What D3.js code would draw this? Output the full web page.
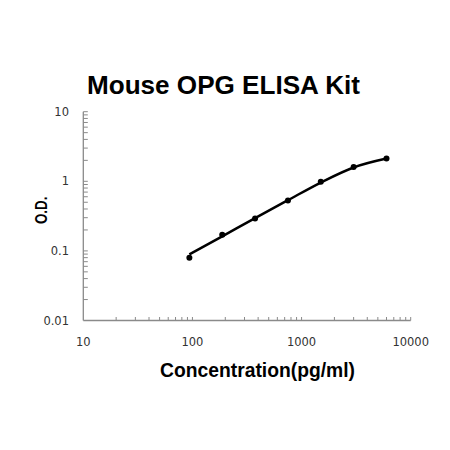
<!DOCTYPE html>
<html><head><meta charset="utf-8">
<script src="https://cdn.jsdelivr.net/npm/d3@7"></script>
<style>html,body{margin:0;padding:0;background:#fff;}</style>
</head><body>
<script>
const title = "Mouse OPG ELISA Kit";
const xTitle = "Concentration(pg/ml)";
const yTitle = "O.D.";
const concentrations = [93.75, 187.5, 375, 750, 1500, 3000, 6000];
const odValues = [0.080, 0.170, 0.292, 0.531, 0.984, 1.60, 2.13];
const fitConc = [93.75, 187.5, 375, 750, 1500, 3000, 6000];
const fitOD = [0.089, 0.162, 0.296, 0.535, 0.960, 1.58, 2.12];
const xTickValues = [10, 100, 1000, 10000];
const xTickLabels = ["10", "100", "1000", "10000"];
const yTickValues = [0.01, 0.1, 1, 10];
const yTickLabels = ["0.01", "0.1", "1", "10"];

const W = 450, H = 450;
const svg = d3.select("body").append("svg").attr("width", W).attr("height", H);
const x = d3.scaleLog().domain([10, 10000]).range([83.3, 410.7]);
const y = d3.scaleLog().domain([0.01, 10]).range([320.5, 111.7]);
const axisColor = "#8a8a8a";

function minorTicks(lo, hi) {
  const out = [];
  for (let d = lo; d < hi; d *= 10) for (let k = 2; k <= 9; k++) out.push(d * k);
  return out;
}
svg.append("g").selectAll("line").data(minorTicks(10, 10000).concat([100, 1000, 10000])).join("line")
  .attr("x1", d => x(d)).attr("x2", d => x(d))
  .attr("y1", y(0.01)).attr("y2", y(0.01) - 3.5)
  .attr("stroke", axisColor).attr("stroke-width", 1);
svg.append("g").selectAll("line").data(minorTicks(0.01, 10).concat([0.1, 1, 10])).join("line")
  .attr("y1", d => y(d)).attr("y2", d => y(d))
  .attr("x1", x(10)).attr("x2", x(10) + 4.5)
  .attr("stroke", axisColor).attr("stroke-width", 1);
svg.append("line").attr("x1", x(10)).attr("x2", x(10000)).attr("y1", y(0.01)).attr("y2", y(0.01))
  .attr("stroke", axisColor).attr("stroke-width", 1.3);
svg.append("line").attr("x1", x(10)).attr("x2", x(10)).attr("y1", y(0.01)).attr("y2", y(10))
  .attr("stroke", axisColor).attr("stroke-width", 1.3);

svg.selectAll("text.xt").data(xTickValues).join("text").attr("class", "xt")
  .attr("x", d => x(d)).attr("y", 345.5).attr("text-anchor", "middle")
  .attr("font-family", "DejaVu Sans").attr("font-size", 11.5).attr("fill", "#333")
  .text((d, i) => xTickLabels[i]);
svg.selectAll("text.yt").data(yTickValues).join("text").attr("class", "yt")
  .attr("x", 69).attr("y", d => y(d)).attr("dy", "0.36em").attr("text-anchor", "end")
  .attr("font-family", "DejaVu Sans").attr("font-size", 11.5).attr("fill", "#333")
  .text((d, i) => yTickLabels[i]);

svg.append("text").attr("x", 223.5).attr("y", 94.3).attr("text-anchor", "middle")
  .attr("font-family", "Liberation Sans, Arial").attr("font-weight", "bold").attr("font-size", 25)
  .attr("textLength", 273).attr("lengthAdjust", "spacingAndGlyphs").text(title);
svg.append("text").attr("x", 257.5).attr("y", 376.5).attr("text-anchor", "middle")
  .attr("font-family", "Liberation Sans, Arial").attr("font-weight", "bold").attr("font-size", 19.5)
  .attr("textLength", 195).attr("lengthAdjust", "spacingAndGlyphs").text(xTitle);
svg.append("text").attr("transform", "translate(46.7,210.3) rotate(-90)").attr("text-anchor", "middle")
  .attr("font-family", "Liberation Sans, Arial").attr("font-weight", "bold").attr("font-size", 16)
  .attr("textLength", 27.5).attr("lengthAdjust", "spacingAndGlyphs").text(yTitle);

const line = d3.line().x(d => x(d[0])).y(d => y(d[1])).curve(d3.curveMonotoneX);
svg.append("path").datum(fitConc.map((c, i) => [c, fitOD[i]]))
  .attr("d", line).attr("fill", "none").attr("stroke", "#000").attr("stroke-width", 2.5);

svg.selectAll("circle").data(concentrations.map((c, i) => [c, odValues[i]])).join("circle")
  .attr("cx", d => x(d[0])).attr("cy", d => y(d[1])).attr("r", 3).attr("fill", "#000");
</script>
</body></html>
